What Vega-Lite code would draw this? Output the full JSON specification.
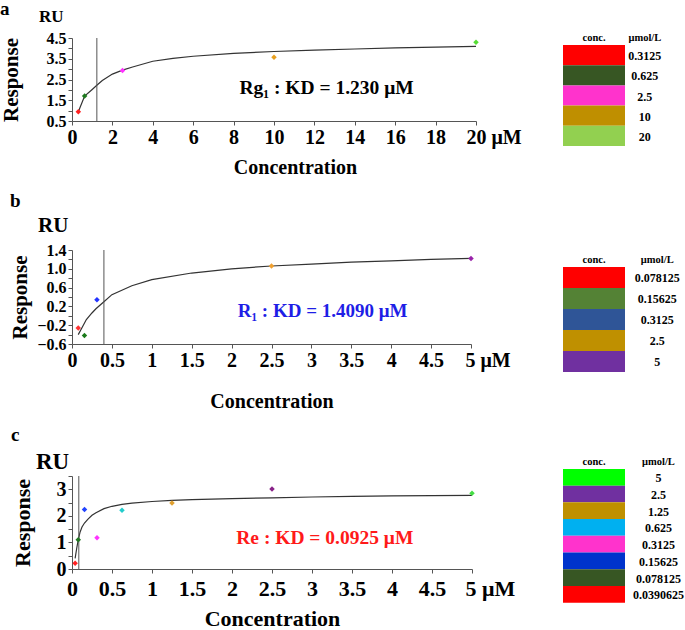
{
  "$schema": "https://vega.github.io/schema/vega-lite/v6.json",
  "padding": {"left": 0, "top": 0, "right": 0, "bottom": 0},
  "background": "white",
  "config": {
    "font": "Liberation Serif",
    "view": {"stroke": null},
    "axis": {"grid": false, "labelFont": "Liberation Serif", "titleFont": "Liberation Serif", "labelFontWeight": "bold", "titleFontWeight": "bold", "labelColor": "#000", "titleColor": "#000", "domainColor": "#555", "tickColor": "#555", "tickSize": 4, "labelFlush": false, "labelOverlap": false, "tickCount": 100},
    "title": {"font": "Liberation Serif", "fontWeight": "bold", "color": "#000"},
    "text": {"font": "Liberation Serif"}
  },
  "spacing": 41,
  "hconcat": [
    {
      "spacing": 15,
      "vconcat": [
        {
          "title": {"text": "a", "anchor": "start", "frame": "bounds", "fontSize": 19, "offset": -11},
          "vconcat": [
            {
              "width": 404, "height": 83,
              "title": {"text": "RU", "anchor": "start", "frame": "group", "dx": -33, "fontSize": 17, "offset": 4},
              "layer": [
                {
                  "data": {"values": [
                    {"c": 0.3125, "r": 0.95}, {"c": 0.625, "r": 1.70}, {"c": 1.0, "r": 2.02}, {"c": 1.23, "r": 2.22},
                    {"c": 1.5, "r": 2.45}, {"c": 2, "r": 2.76}, {"c": 2.5, "r": 2.95}, {"c": 3, "r": 3.10},
                    {"c": 4, "r": 3.38}, {"c": 5, "r": 3.52}, {"c": 6, "r": 3.62}, {"c": 8, "r": 3.76},
                    {"c": 10, "r": 3.85}, {"c": 12, "r": 3.92}, {"c": 14, "r": 3.97}, {"c": 16, "r": 4.02},
                    {"c": 18, "r": 4.06}, {"c": 20, "r": 4.10}
                  ]},
                  "mark": {"type": "line", "color": "#333", "strokeWidth": 1.2},
                  "encoding": {
                    "x": {"field": "c", "type": "quantitative", "scale": {"domain": [0, 20], "nice": false},
                      "axis": {"values": [0, 2, 4, 6, 8, 10, 12, 14, 16, 18, 20], "tickCount": 100, "labelExpr": "datum.value == 20 ? '20 μM' : format(datum.value, 'd')",
                        "labelOverlap": false,
                        "labelAlign": {"condition": {"test": "datum.value == 20", "value": "left"}, "value": "center"},
                        "labelOffset": {"condition": {"test": "datum.value == 20", "value": -10}, "value": 0},
                        "labelFontSize": 20, "title": "Concentration", "titleFontSize": 20, "titleX": 223, "titlePadding": 10}},
                    "y": {"field": "r", "type": "quantitative", "scale": {"domain": [0.5, 4.5], "nice": false},
                      "axis": {"values": [0.5, 1, 1.5, 2, 2.5, 3, 3.5, 4, 4.5], "tickCount": 100, "labelExpr": "(datum.value * 2) % 2 == 1 ? format(datum.value, '.1f') : ''",
                        "labelOverlap": false,
                        "labelFontSize": 16, "title": "Response", "titleFontSize": 21, "titlePadding": 25}}
                  }
                },
                {
                  "data": {"values": [{"kd": 1.23}]},
                  "mark": {"type": "rule", "color": "#555", "strokeWidth": 1},
                  "encoding": {"x": {"field": "kd", "type": "quantitative"}}
                },
                {
                  "data": {"values": [
                    {"c": 0.3125, "r": 0.95, "col": "#ff2020"}, {"c": 0.625, "r": 1.70, "col": "#1e7a1e"},
                    {"c": 2.5, "r": 2.93, "col": "#ff33ff"}, {"c": 10, "r": 3.57, "col": "#e8a020"}, {"c": 20, "r": 4.30, "col": "#55dd33"}
                  ]},
                  "mark": {"type": "point", "shape": "diamond", "filled": true, "size": 30, "opacity": 1},
                  "encoding": {"x": {"field": "c", "type": "quantitative"}, "y": {"field": "r", "type": "quantitative"},
                    "color": {"field": "col", "type": "nominal", "scale": null}}
                },
                {
                  "data": {"values": [{"c": 12.6, "r": 2.09, "t": "Rg₁ : KD = 1.230 μM"}]},
                  "mark": {"type": "text", "fontSize": 19.5, "fontWeight": "bold", "color": "#000"},
                  "encoding": {"x": {"field": "c", "type": "quantitative"}, "y": {"field": "r", "type": "quantitative"}, "text": {"field": "t"}}
                }
              ]
            }
          ]
        },
        {
          "title": {"text": "b", "anchor": "start", "frame": "bounds", "fontSize": 19, "offset": 4},
          "vconcat": [
            {
              "width": 399, "height": 94,
              "title": {"text": "RU", "anchor": "start", "frame": "group", "dx": -34, "fontSize": 21, "offset": 6},
              "layer": [
                {
                  "data": {"values": [
                    {"c": 0.078125, "r": -0.40}, {"c": 0.12, "r": -0.27}, {"c": 0.18, "r": -0.08}, {"c": 0.25, "r": 0.06},
                    {"c": 0.3, "r": 0.15}, {"c": 0.4, "r": 0.30}, {"c": 0.5, "r": 0.45}, {"c": 0.75, "r": 0.64},
                    {"c": 1, "r": 0.77}, {"c": 1.5, "r": 0.91}, {"c": 2, "r": 1.00}, {"c": 2.5, "r": 1.06},
                    {"c": 3, "r": 1.10}, {"c": 3.5, "r": 1.14}, {"c": 4, "r": 1.17}, {"c": 4.5, "r": 1.20}, {"c": 5, "r": 1.22}
                  ]},
                  "mark": {"type": "line", "color": "#333", "strokeWidth": 1.2},
                  "encoding": {
                    "x": {"field": "c", "type": "quantitative", "scale": {"domain": [0, 5], "nice": false},
                      "axis": {"values": [0, 0.5, 1, 1.5, 2, 2.5, 3, 3.5, 4, 4.5, 5], "tickCount": 100, "labelExpr": "datum.value == 5 ? '5 μM' : format(datum.value, '~g')",
                        "labelOverlap": false,
                        "labelAlign": {"condition": {"test": "datum.value == 5", "value": "left"}, "value": "center"},
                        "labelOffset": {"condition": {"test": "datum.value == 5", "value": -6}, "value": 0},
                        "labelFontSize": 20, "title": "Concentration", "titleFontSize": 20, "titlePadding": 21}},
                    "y": {"field": "r", "type": "quantitative", "scale": {"domain": [-0.6, 1.4], "nice": false, "zero": false},
                      "axis": {"values": [-0.6, -0.4, -0.2, 0, 0.2, 0.4, 0.6, 0.8, 1, 1.2, 1.4], "tickCount": 100, "labelExpr": "abs(round(datum.value * 10)) % 4 == 2 ? format(datum.value, '.1f') : ''",
                        "labelOverlap": false,
                        "labelFontSize": 16, "title": "Response", "titleFontSize": 21, "titlePadding": 6}}
                  }
                },
                {
                  "data": {"values": [{"kd": 0.4}]},
                  "mark": {"type": "rule", "color": "#555", "strokeWidth": 1},
                  "encoding": {"x": {"field": "kd", "type": "quantitative"}}
                },
                {
                  "data": {"values": [
                    {"c": 0.078125, "r": -0.26, "col": "#ff3333"}, {"c": 0.15625, "r": -0.42, "col": "#1a7a1a"},
                    {"c": 0.3125, "r": 0.34, "col": "#2233ff"}, {"c": 2.5, "r": 1.06, "col": "#f0a030"}, {"c": 5, "r": 1.22, "col": "#9922aa"}
                  ]},
                  "mark": {"type": "point", "shape": "diamond", "filled": true, "size": 30, "opacity": 1},
                  "encoding": {"x": {"field": "c", "type": "quantitative"}, "y": {"field": "r", "type": "quantitative"},
                    "color": {"field": "col", "type": "nominal", "scale": null}}
                },
                {
                  "data": {"values": [{"c": 3.14, "r": 0.10, "t": "R₁ : KD = 1.4090 μM"}]},
                  "mark": {"type": "text", "fontSize": 19, "fontWeight": "bold", "color": "#1e1ee6"},
                  "encoding": {"x": {"field": "c", "type": "quantitative"}, "y": {"field": "r", "type": "quantitative"}, "text": {"field": "t"}}
                }
              ]
            }
          ]
        },
        {
          "title": {"text": "c", "anchor": "start", "frame": "bounds", "fontSize": 19, "offset": 6},
          "vconcat": [
            {
              "width": 400, "height": 93,
              "title": {"text": "RU", "anchor": "start", "frame": "group", "dx": -36, "fontSize": 23, "offset": -8},
              "layer": [
                {
                  "data": {"values": [
                    {"c": 0.039, "r": 0.40}, {"c": 0.06, "r": 0.80}, {"c": 0.078, "r": 1.10}, {"c": 0.1, "r": 1.38},
                    {"c": 0.125, "r": 1.58}, {"c": 0.156, "r": 1.73}, {"c": 0.2, "r": 1.88}, {"c": 0.25, "r": 2.02},
                    {"c": 0.3, "r": 2.12}, {"c": 0.4, "r": 2.27}, {"c": 0.5, "r": 2.36}, {"c": 0.625, "r": 2.43},
                    {"c": 0.75, "r": 2.48}, {"c": 1, "r": 2.54}, {"c": 1.25, "r": 2.58}, {"c": 1.5, "r": 2.61},
                    {"c": 2, "r": 2.65}, {"c": 2.5, "r": 2.68}, {"c": 3, "r": 2.71}, {"c": 3.5, "r": 2.73},
                    {"c": 4, "r": 2.75}, {"c": 4.5, "r": 2.76}, {"c": 5, "r": 2.77}
                  ]},
                  "mark": {"type": "line", "color": "#333", "strokeWidth": 1.2},
                  "encoding": {
                    "x": {"field": "c", "type": "quantitative", "scale": {"domain": [0, 5], "nice": false},
                      "axis": {"values": [0, 0.5, 1, 1.5, 2, 2.5, 3, 3.5, 4, 4.5, 5], "tickCount": 100, "labelExpr": "datum.value == 5 ? '5 μM' : format(datum.value, '~g')",
                        "labelOverlap": false, "labelPadding": 5,
                        "labelAlign": {"condition": {"test": "datum.value == 5", "value": "left"}, "value": "center"},
                        "labelOffset": {"condition": {"test": "datum.value == 5", "value": -7}, "value": 0},
                        "labelFontSize": 22, "title": "Concentration", "titleFontSize": 22, "titlePadding": 9}},
                    "y": {"field": "r", "type": "quantitative", "scale": {"domain": [0, 3.5], "nice": false},
                      "axis": {"values": [0, 0.5, 1, 1.5, 2, 2.5, 3, 3.5], "tickCount": 100, "labelExpr": "datum.value % 1 == 0 ? format(datum.value, 'd') : ''",
                        "labelOverlap": false,
                        "labelFontSize": 20, "title": "Response", "titleFontSize": 22, "titlePadding": 22}}
                  }
                },
                {
                  "data": {"values": [{"kd": 0.085}]},
                  "mark": {"type": "rule", "color": "#555", "strokeWidth": 1},
                  "encoding": {"x": {"field": "kd", "type": "quantitative"}}
                },
                {
                  "data": {"values": [
                    {"c": 0.0390625, "r": 0.22, "col": "#ff2222"}, {"c": 0.078125, "r": 1.10, "col": "#227722"},
                    {"c": 0.15625, "r": 2.24, "col": "#2244ff"}, {"c": 0.3125, "r": 1.18, "col": "#ff33ff"},
                    {"c": 0.625, "r": 2.21, "col": "#22cccc"}, {"c": 1.25, "r": 2.48, "col": "#e0a030"},
                    {"c": 2.5, "r": 3.01, "col": "#882288"}, {"c": 5, "r": 2.85, "col": "#44dd44"}
                  ]},
                  "mark": {"type": "point", "shape": "diamond", "filled": true, "size": 30, "opacity": 1},
                  "encoding": {"x": {"field": "c", "type": "quantitative"}, "y": {"field": "r", "type": "quantitative"},
                    "color": {"field": "col", "type": "nominal", "scale": null}}
                },
                {
                  "data": {"values": [{"c": 3.16, "r": 1.17, "t": "Re : KD = 0.0925 μM"}]},
                  "mark": {"type": "text", "fontSize": 19.5, "fontWeight": "bold", "color": "#ff1a1a"},
                  "encoding": {"x": {"field": "c", "type": "quantitative"}, "y": {"field": "r", "type": "quantitative"}, "text": {"field": "t"}}
                }
              ]
            }
          ]
        }
      ]
    },
    {
      "spacing": 0,
      "vconcat": [
        {
          "width": 124, "height": 115,
          "layer": [
            {
              "data": {"values": [
                {"conc": "0.3125", "color": "#FF0000"}, {"conc": "0.625", "color": "#375623"}, {"conc": "2.5", "color": "#FF33CC"},
                {"conc": "10", "color": "#BF8F00"}, {"conc": "20", "color": "#92D050"}
              ]},
              "mark": {"type": "rect"},
              "encoding": {
                "y": {"field": "conc", "type": "ordinal", "scale": {"domain": ["0.3125", "0.625", "2.5", "10", "20"], "paddingInner": 0, "paddingOuter": 0.35}, "axis": null},
                "x": {"datum": 0, "type": "quantitative", "scale": {"domain": [0, 2], "nice": false}, "axis": null},
                "x2": {"datum": 1},
                "color": {"field": "color", "type": "nominal", "scale": null}
              }
            },
            {
              "data": {"values": [{"conc": "0.3125"}, {"conc": "0.625"}, {"conc": "2.5"}, {"conc": "10"}, {"conc": "20"}]},
              "mark": {"type": "text", "fontSize": 12, "fontWeight": "bold", "color": "#000", "dy": 1},
              "encoding": {"y": {"field": "conc", "type": "ordinal"}, "x": {"datum": 1.32, "type": "quantitative"}, "text": {"field": "conc"}}
            },
            {
              "data": {"values": [{"conc": "0.3125", "h": "conc.", "p": 0.5}, {"conc": "0.3125", "h": "μmol/L", "p": 1.32}]},
              "mark": {"type": "text", "fontSize": 10.5, "fontWeight": "bold", "color": "#000", "dy": -17},
              "encoding": {"y": {"field": "conc", "type": "ordinal"}, "x": {"field": "p", "type": "quantitative"}, "text": {"field": "h"}}
            }
          ]
        },
        {
          "width": 124, "height": 228,
          "layer": [
            {
              "data": {"values": [
                {"conc": "0.078125", "color": "#FF0000"}, {"conc": "0.15625", "color": "#548235"}, {"conc": "0.3125", "color": "#2F5597"},
                {"conc": "2.5", "color": "#BF9000"}, {"conc": "5", "color": "#7030A0"}
              ]},
              "mark": {"type": "rect"},
              "encoding": {
                "y": {"field": "conc", "type": "ordinal", "scale": {"domain": ["p1", "p2", "p3", "p4", "hdr", "0.078125", "0.15625", "0.3125", "2.5", "5"], "paddingInner": 0, "paddingOuter": 0.43}, "axis": null},
                "x": {"datum": 0, "type": "quantitative", "scale": {"domain": [0, 2], "nice": false}, "axis": null},
                "x2": {"datum": 1},
                "color": {"field": "color", "type": "nominal", "scale": null}
              }
            },
            {
              "data": {"values": [{"conc": "0.078125"}, {"conc": "0.15625"}, {"conc": "0.3125"}, {"conc": "2.5"}, {"conc": "5"}]},
              "mark": {"type": "text", "fontSize": 12, "fontWeight": "bold", "color": "#000", "dy": 1},
              "encoding": {"y": {"field": "conc", "type": "ordinal"}, "x": {"datum": 1.52, "type": "quantitative"}, "text": {"field": "conc"}}
            },
            {
              "data": {"values": [{"conc": "hdr", "h": "conc.", "p": 0.5}, {"conc": "hdr", "h": "μmol/L", "p": 1.52}]},
              "mark": {"type": "text", "fontSize": 10.5, "fontWeight": "bold", "color": "#000", "dy": 3},
              "encoding": {"y": {"field": "conc", "type": "ordinal"}, "x": {"field": "p", "type": "quantitative"}, "text": {"field": "h"}}
            }
          ]
        },
        {
          "width": 124, "height": 226,
          "layer": [
            {
              "data": {"values": [
                {"conc": "5", "color": "#00FF00"}, {"conc": "2.5", "color": "#7030A0"}, {"conc": "1.25", "color": "#BF9000"},
                {"conc": "0.625", "color": "#00B0F0"}, {"conc": "0.3125", "color": "#FF33CC"}, {"conc": "0.15625", "color": "#0033CC"},
                {"conc": "0.078125", "color": "#375623"}, {"conc": "0.0390625", "color": "#FF0000"}
              ]},
              "mark": {"type": "rect"},
              "encoding": {
                "y": {"field": "conc", "type": "ordinal", "scale": {"domain": ["p1", "p2", "p3", "p4", "hdr", "5", "2.5", "1.25", "0.625", "0.3125", "0.15625", "0.078125", "0.0390625"], "paddingInner": 0, "paddingOuter": 0.25}, "axis": null},
                "x": {"datum": 0, "type": "quantitative", "scale": {"domain": [0, 2], "nice": false}, "axis": null},
                "x2": {"datum": 1},
                "color": {"field": "color", "type": "nominal", "scale": null}
              }
            },
            {
              "data": {"values": [{"conc": "5"}, {"conc": "2.5"}, {"conc": "1.25"}, {"conc": "0.625"}, {"conc": "0.3125"}, {"conc": "0.15625"}, {"conc": "0.078125"}, {"conc": "0.0390625"}]},
              "mark": {"type": "text", "fontSize": 12, "fontWeight": "bold", "color": "#000", "dy": 1},
              "encoding": {"y": {"field": "conc", "type": "ordinal"}, "x": {"datum": 1.54, "type": "quantitative"}, "text": {"field": "conc"}}
            },
            {
              "data": {"values": [{"conc": "hdr", "h": "conc.", "p": 0.5}, {"conc": "hdr", "h": "μmol/L", "p": 1.54}]},
              "mark": {"type": "text", "fontSize": 10.5, "fontWeight": "bold", "color": "#000", "dy": 1},
              "encoding": {"y": {"field": "conc", "type": "ordinal"}, "x": {"field": "p", "type": "quantitative"}, "text": {"field": "h"}}
            }
          ]
        }
      ]
    }
  ]
}
